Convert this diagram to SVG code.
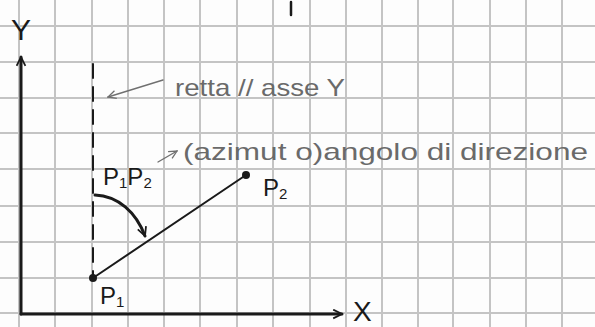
<svg xmlns="http://www.w3.org/2000/svg" width="595" height="327" viewBox="0 0 595 327">
<defs>
<style>
.grid line{stroke:#c4c4c4;stroke-width:2}
.ink{fill:none;stroke:#1a1a1a;stroke-linecap:round;stroke-linejoin:round}
.pencil{fill:none;stroke:#707070;stroke-width:1.4;stroke-linecap:round}
.lbl{font-family:"Liberation Sans",Arial,sans-serif;fill:#1a1a1a}
.note{font-family:"Liberation Sans",Arial,sans-serif;fill:#6a6a6a;font-weight:300}
</style>
<marker id="openArrow" viewBox="0 0 10 10" refX="9" refY="5" markerWidth="11" markerHeight="11" markerUnits="userSpaceOnUse" orient="auto">
<path d="M1,1 L9,5 L1,9" fill="none" stroke="#1a1a1a" stroke-width="1.6"/>
</marker>
<marker id="pencilArrow" viewBox="0 0 10 10" refX="9" refY="5" markerWidth="10" markerHeight="10" markerUnits="userSpaceOnUse" orient="auto">
<path d="M1,1 L9,5 L1,9" fill="none" stroke="#707070" stroke-width="1.3"/>
</marker>
</defs>
<rect width="595" height="327" fill="#fdfdfd"/>
<g class="grid">
<line x1="19" y1="0" x2="19" y2="327"/><line x1="55" y1="0" x2="55" y2="327"/><line x1="92" y1="0" x2="92" y2="327"/><line x1="128" y1="0" x2="128" y2="327"/><line x1="164" y1="0" x2="164" y2="327"/><line x1="200" y1="0" x2="200" y2="327"/><line x1="237" y1="0" x2="237" y2="327"/><line x1="273" y1="0" x2="273" y2="327"/><line x1="310" y1="0" x2="310" y2="327"/><line x1="346" y1="0" x2="346" y2="327"/><line x1="382" y1="0" x2="382" y2="327"/><line x1="418" y1="0" x2="418" y2="327"/><line x1="453" y1="0" x2="453" y2="327"/><line x1="490" y1="0" x2="490" y2="327"/><line x1="526" y1="0" x2="526" y2="327"/><line x1="562" y1="0" x2="562" y2="327"/>
<line x1="0" y1="26" x2="595" y2="26"/><line x1="0" y1="62" x2="595" y2="62"/><line x1="0" y1="98" x2="595" y2="98"/><line x1="0" y1="133" x2="595" y2="133"/><line x1="0" y1="169" x2="595" y2="169"/><line x1="0" y1="206" x2="595" y2="206"/><line x1="0" y1="242" x2="595" y2="242"/><line x1="0" y1="278" x2="595" y2="278"/><line x1="0" y1="313" x2="595" y2="313"/>
</g>
<g id="axes">
<line class="ink" x1="21" y1="314" x2="21" y2="57" stroke-width="3" marker-end="url(#openArrow)"/>
<line class="ink" x1="21" y1="314" x2="342" y2="314" stroke-width="3" marker-end="url(#openArrow)"/>
<text class="lbl" x="11" y="40" font-size="30">Y</text>
<text class="lbl" x="353" y="321" font-size="28">X</text>
<line class="ink" x1="291" y1="2" x2="291" y2="15" stroke-width="2.5"/>
</g>
<g id="parallel-line">
<line class="ink" x1="93" y1="64" x2="93" y2="276" stroke-width="2" stroke-dasharray="14,9"/>
</g>
<g id="p1">
<circle cx="93" cy="278" r="4" fill="#1a1a1a"/>
<text class="lbl" x="100" y="304" font-size="24">P<tspan font-size="15" dy="3">1</tspan></text>
</g>
<g id="p2">
<circle cx="246" cy="175" r="4" fill="#1a1a1a"/>
<text class="lbl" x="263" y="196" font-size="24">P<tspan font-size="15" dy="3">2</tspan></text>
</g>
<g id="segment">
<line class="ink" x1="93" y1="278" x2="246" y2="175" stroke-width="2"/>
</g>
<g id="azimuth">
<path class="ink" d="M95,195 C118,196 136,212 145,236" stroke-width="3" marker-end="url(#openArrow)"/>
<text class="lbl" x="103" y="185" font-size="24">P<tspan font-size="15" dy="3">1</tspan><tspan font-size="24" dy="-3">P</tspan><tspan font-size="15" dy="3">2</tspan></text>
</g>
<g id="connectors">
<line class="pencil" x1="158" y1="162" x2="177" y2="151" marker-end="url(#pencilArrow)"/>
<line class="pencil" x1="163" y1="80" x2="108" y2="97" marker-end="url(#pencilArrow)"/>
</g>
<g id="notes">
<text class="note" x="175" y="96" font-size="24" textLength="170" lengthAdjust="spacingAndGlyphs">retta // asse Y</text>
<text class="note" x="183" y="160" font-size="24" textLength="405" lengthAdjust="spacingAndGlyphs">(azimut o)angolo di direzione</text>
</g>
</svg>
